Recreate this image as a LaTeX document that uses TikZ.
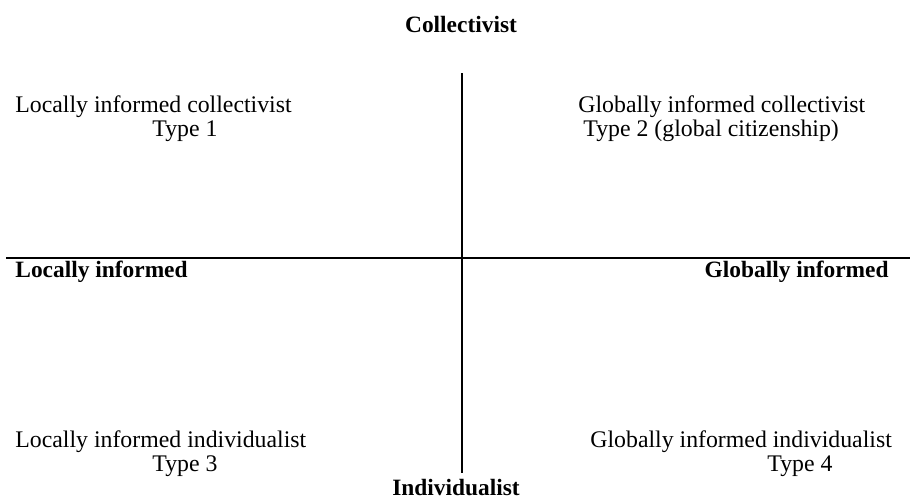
\documentclass[tikz,border=0pt]{standalone}
\usepackage{fontspec}
\setmainfont{Liberation Serif}
\usepackage{tikz}

\begin{document}
\begin{tikzpicture}[
        x=0.5pt, y=-0.5pt,
        every node/.style={inner sep=0pt, font=\fontsize{11.9}{14}\selectfont},
        quad/.style={anchor=base west},
        pole/.style={anchor=base, font=\fontsize{11.7}{14}\selectfont\bfseries},
        axisline/.style={line width=0.6pt}
    ]
        \useasboundingbox (0,0) rectangle (910,499);
        % axes
        \coordinate (top) at (462,73);
        \coordinate (bottom) at (462,473);
        \coordinate (left) at (6,258);
        \coordinate (right) at (910,258);
        \draw[axisline] (top) -- (bottom);
        \draw[axisline] (left) -- (right);
        % poles
        \node[pole] (collectivist) at (461,32) {Collectivist};
        \node[pole] (individualist) at (456,495) {Individualist};
        \node[pole, anchor=base west] (local) at (15,277) {Locally informed};
        \node[pole, anchor=base east] (global) at (889,277) {Globally informed};
        % quadrants
        \node[quad] (type1a) at (15,112) {Locally informed collectivist};
        \node[quad] (type1b) at (152,136) {Type 1};
        \node[quad] (type2a) at (578,112) {Globally informed collectivist};
        \node[quad] (type2b) at (583,136) {Type 2 (global citizenship)};
        \node[quad] (type3a) at (15,447) {Locally informed individualist};
        \node[quad] (type3b) at (152,471) {Type 3};
        \node[quad] (type4a) at (590,447) {Globally informed individualist};
        \node[quad] (type4b) at (767,471) {Type 4};
    \end{tikzpicture}
\end{document}
